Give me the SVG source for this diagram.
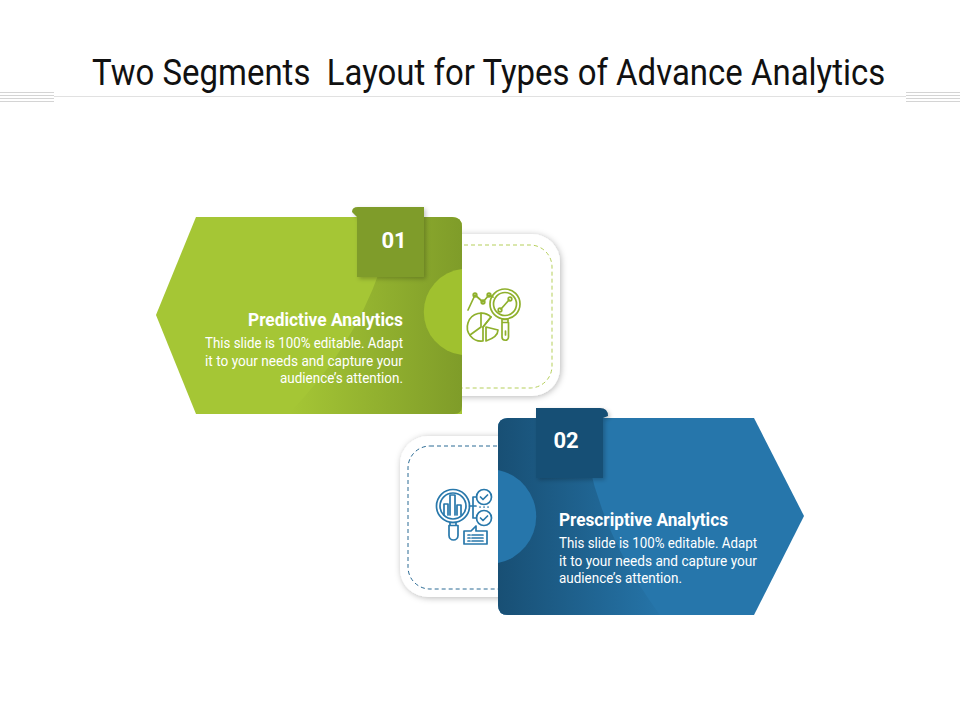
<svg xmlns="http://www.w3.org/2000/svg" width="960" height="720" viewBox="0 0 960 720">
<style>
.title{font-family:"Roboto","Liberation Sans",sans-serif;font-size:37px;fill:#111;white-space:pre}
.h{font-family:"Roboto","Liberation Sans",sans-serif;font-size:18px;font-weight:700;fill:#fff}
.b{font-family:"Roboto","Liberation Sans",sans-serif;font-size:14.500px;fill:#fff}
.n{font-family:"Roboto","Liberation Sans",sans-serif;font-size:22px;font-weight:700;fill:#fff}
.ig{fill:none;stroke:#8fb02c;stroke-width:1.700;stroke-linejoin:round;stroke-linecap:round}
.ib{fill:none;stroke:#2878ab;stroke-width:1.700;stroke-linejoin:round;stroke-linecap:round}
.rule{stroke:#d4d4d4;stroke-width:1}
</style>
<defs>
<linearGradient id="gg" gradientUnits="userSpaceOnUse" x1="290" y1="0" x2="462" y2="0"><stop offset="0" stop-color="#a5c635"/><stop offset="1" stop-color="#7f9c29"/></linearGradient>
<linearGradient id="gb" gradientUnits="userSpaceOnUse" x1="498" y1="0" x2="670" y2="0"><stop offset="0" stop-color="#184f74"/><stop offset="1" stop-color="#2676ab"/></linearGradient>
<filter id="sh" x="-15%" y="-15%" width="130%" height="130%"><feDropShadow dx="2" dy="2" stdDeviation="2" flood-color="#000" flood-opacity=".22"/></filter>
<filter id="sc" x="-15%" y="-15%" width="130%" height="130%"><feDropShadow dx="1" dy="1" stdDeviation="3" flood-color="#000" flood-opacity=".28"/></filter>
</defs>
<g id="header">
<text class="title" transform="translate(92 85) scale(.891 1)" xml:space="preserve">Two Segments  Layout for Types of Advance Analytics</text>
<path class="rule" d="M54 96.500H906" stroke-opacity=".7"/>
<path class="rule" d="M0 92.500H54M0 95.500H54M0 98.500H54M0 101.500H54M906 92.500H960M906 95.500H960M906 98.500H960M906 101.500H960"/>
</g>
<g id="node-01">
<rect x="380" y="234" width="180" height="162" rx="28" fill="#fff" filter="url(#sc)"/>
<rect x="400" y="245" width="152" height="143" rx="22" fill="none" stroke="#b5cf5a" stroke-width="1" stroke-dasharray="4 3"/>
<path d="M156 315L196 217H452Q462 217 462 227V414H196Z" fill="#a5c635"/>
<path d="M380 270Q352 350 288 414H454Q462 414 462 406V227Q462 217 452 217H394Q388 240 380 270Z" fill="url(#gg)"/>
<path d="M462 269A43.300 43.300 0 0 0 462 355Z" fill="#a0c12f"/>
<path d="M352 212Q352 207 358 207H424V277H357V217Z" fill="#7f9c29" filter="url(#sh)"/>
<text class="n" x="394" y="248" text-anchor="middle">01</text>
<text class="h" x="403" y="326" text-anchor="end" textLength="155" lengthAdjust="spacingAndGlyphs">Predictive Analytics</text>
<text class="b" x="403" y="348" text-anchor="end" textLength="198" lengthAdjust="spacingAndGlyphs">This slide is 100% editable. Adapt</text>
<text class="b" x="403" y="366" text-anchor="end" textLength="198" lengthAdjust="spacingAndGlyphs">it to your needs and capture your</text>
<text class="b" x="403" y="383" text-anchor="end" textLength="123" lengthAdjust="spacingAndGlyphs">audience’s attention.</text>
<g class="ig">
<circle cx="505" cy="304" r="15"/><circle cx="505" cy="304" r="11.500"/>
<path d="M501 309L509 300"/><circle cx="500" cy="310" r="1.800"/><circle cx="510" cy="299" r="1.800"/>
<path d="M502 319.500h6v3h-6zM502 322.500h6.500V337a3.250 3.250 0 0 1-6.500 0Z"/><path d="M505.500 331v4"/>
<path d="M468 310L475 295L483 302L489 295L493 297"/><circle cx="475" cy="295" r="1.800"/><circle cx="483" cy="302" r="1.800"/><circle cx="489" cy="295" r="1.800"/>
<path d="M491 317A14 14 0 1 0 483 341V327Z"/><path d="M481 313V327L470 335M483 327L491 317"/>
<path d="M486 341L486 327L498 330Q498 337 486 341Z"/>
</g>
</g>
<g id="node-02">
<rect x="400" y="436" width="180" height="161" rx="28" fill="#fff" filter="url(#sc)"/>
<rect x="408" y="446" width="150" height="143" rx="22" fill="none" stroke="#2a6a94" stroke-width="1" stroke-dasharray="4 3"/>
<path d="M508 418H754L804 516L754 615H508Q498 615 498 605V428Q498 418 508 418Z" fill="#2676ab"/>
<path d="M508 418H582Q590 520 660 615H508Q498 615 498 605V428Q498 418 508 418Z" fill="url(#gb)"/>
<path d="M498 470A47.400 47.400 0 0 1 498 563Z" fill="#2676ab"/>
<path d="M536 408H600Q608 408 608 416L603 418V478H536Z" fill="#194f74" filter="url(#sh)"/>
<text class="n" x="566" y="448" text-anchor="middle">02</text>
<text class="h" x="559" y="526" textLength="169" lengthAdjust="spacingAndGlyphs">Prescriptive Analytics</text>
<text class="b" x="559" y="548" textLength="198" lengthAdjust="spacingAndGlyphs">This slide is 100% editable. Adapt</text>
<text class="b" x="559" y="566" textLength="198" lengthAdjust="spacingAndGlyphs">it to your needs and capture your</text>
<text class="b" x="559" y="583" textLength="123" lengthAdjust="spacingAndGlyphs">audience’s attention.</text>
<g class="ib">
<circle cx="453" cy="506" r="16.500"/><circle cx="453" cy="506" r="13"/>
<path d="M444 515V504H448V515M450 515V495H455V515M457 515V505H461V515"/>
<path d="M450 522.500h6v3h-6zM449 525.500h9v10a4.500 4.500 0 0 1-9 0V525.500Z"/>
<circle cx="484" cy="497" r="7.500"/><circle cx="484" cy="518" r="7.500"/>
<path d="M480.500 497l2.500 2.500 4.500-4.500M480.500 518l2.500 2.500 4.500-4.500"/>
<path d="M469.500 506H476M473 497H476.500M473 497V518H476.500M480 507h.1M484 507h.1M488 507h.1"/>
<path d="M464 531H471L476 526V531H487V544H464Z"/><path d="M468 535h2M472 535h11M468 538h2M472 538h11M468 541h2M472 541h11"/>
</g>
</g>
</svg>
